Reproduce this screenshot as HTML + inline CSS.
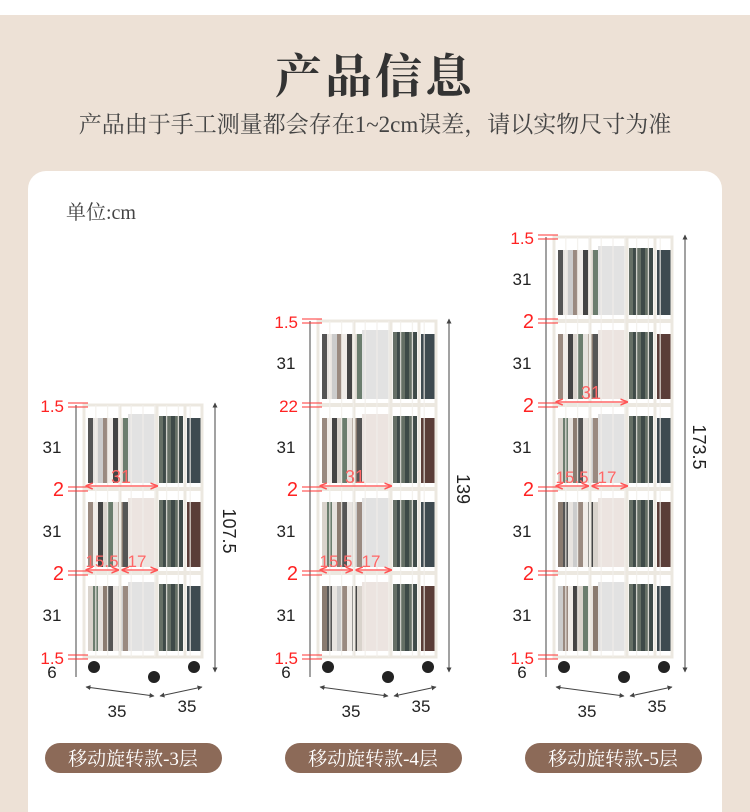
<!DOCTYPE html>
<html><head><meta charset="utf-8"><style>
html,body{margin:0;padding:0;width:750px;height:812px;overflow:hidden;background:#fff}
.bg{position:absolute;left:0;top:15px;width:750px;height:797px;background:#ede1d6}
.card{position:absolute;left:28px;top:171px;width:694px;height:641px;background:#fff;border-radius:18px 18px 0 0}
.t{position:absolute;left:0;width:750px;text-align:center;color:#333;font-family:"Liberation Serif","Noto Serif CJK SC",serif}
svg{position:absolute;left:0;top:0}
</style></head><body>
<div class="bg"></div><div class="card"></div>
<div class="t" style="top:40px;font-size:47px;font-weight:bold;letter-spacing:3px">产品信息</div>
<div class="t" style="top:106px;font-size:23px;color:#444">产品由于手工测量都会存在1~2cm误差，请以实物尺寸为准</div>
<div style="position:absolute;left:66px;top:196px;font-size:20px;color:#444;font-family:'Liberation Serif','Noto Serif CJK SC',serif">单位:cm</div>
<svg id="s" width="750" height="812" xmlns="http://www.w3.org/2000/svg"></svg>
<script>
var s=document.getElementById('s'),h='';
h+='<defs><marker id="a" viewBox="0 0 10 10" refX="9" refY="5" markerWidth="5" markerHeight="5" orient="auto-start-reverse"><path d="M0,0L10,5L0,10z" fill="#444"/></marker><marker id="r" viewBox="0 0 10 10" refX="9" refY="5" markerWidth="5" markerHeight="5" orient="auto-start-reverse"><path d="M0,1L10,5L0,9" fill="none" stroke="#f55" stroke-width="2"/></marker></defs>';
var cols=['#555','#e8e4e0','#ccc','#9a8a80','#f0ece8','#444','#d9d3cc','#6b7d6e','#e6e2de','#8a7b70'];
function shelf(x,tiers,tot,lbl,pill){
 var top=657-tiers*84, bot=657, fr=x+73, side=x+118;
 for(var t=0;t<tiers;t++){var y0=top+t*84+5,y1=y0+79-6;
  for(var i=0;i<8;i++){h+='<rect x="'+(x+4+i*5)+'" y="'+(y0+8)+'" width="5" height="'+(y1-y0-8)+'" fill="'+cols[(i+t*3)%10]+'"/>';}
  h+='<rect x="'+(x+44)+'" y="'+(y0+4)+'" width="28" height="'+(y1-y0-4)+'" fill="'+(t%2?'#ece4e0':'#e2e2e2')+'"/>';
  for(var i=0;i<6;i++){h+='<rect x="'+(fr+2+i*4)+'" y="'+(y0+6)+'" width="4" height="'+(y1-y0-6)+'" fill="'+(i%2?'#3e4a48':'#667066')+'"/>';}
  for(var i=0;i<4;i++){h+='<rect x="'+(fr+30+i*4)+'" y="'+(y0+8)+'" width="4" height="'+(y1-y0-8)+'" fill="'+(t%2?'#5a3d38':'#3e4a50')+'"/>';}
 }
 var st='stroke="#ece8e0" fill="none"';
 h+='<rect x="'+x+'" y="'+top+'" width="'+(side-x)+'" height="'+(bot-top)+'" '+st+' stroke-width="3"/>';
 for(var t=1;t<tiers;t++){var yy=top+t*84;h+='<line x1="'+x+'" y1="'+yy+'" x2="'+side+'" y2="'+yy+'" stroke="#ece8e0" stroke-width="4"/>';}
 [x+36,fr,fr+28].forEach(function(v){h+='<line x1="'+v+'" y1="'+top+'" x2="'+v+'" y2="'+bot+'" stroke="#ece8e0" stroke-width="3"/>';});
 for(var i=1;i<10;i++){var v=x+i*(side-x)/10;h+='<line x1="'+v+'" y1="'+top+'" x2="'+v+'" y2="'+bot+'" stroke="#f2efea" stroke-width="1.3" opacity=".8"/>';}
 [x+10,x+70,side-8].forEach(function(v,k){h+='<circle cx="'+v+'" cy="'+(bot+10+(k==1?10:0))+'" r="6" fill="#222"/>';});
 var lx=x-8;
 h+='<line x1="'+lx+'" y1="'+top+'" x2="'+lx+'" y2="'+(bot+20)+'" stroke="#444" stroke-width="1"/>';
 function red(y,txt){h+='<line x1="'+(x-16)+'" y1="'+(y-2)+'" x2="'+(x+4)+'" y2="'+(y-2)+'" stroke="#f33"/><line x1="'+(x-16)+'" y1="'+(y+2)+'" x2="'+(x+4)+'" y2="'+(y+2)+'" stroke="#f33"/><text x="'+(x-20)+'" y="'+(y+7)+'" text-anchor="end" font-size="'+(txt.length>1?17:20)+'" fill="#f22" font-family="Liberation Sans,sans-serif">'+txt+'</text>';}
 red(top,'1.5');
 for(var t=0;t<tiers;t++){h+='<text x="'+(x-32)+'" y="'+(top+t*84+48)+'" text-anchor="middle" font-size="17" fill="#222" font-family="Liberation Sans,sans-serif">31</text>';
  if(t>0)red(top+t*84,(tiers==4&&t==1)?'22':'2');}
 red(bot,'1.5');
 h+='<text x="'+(x-32)+'" y="'+(bot+21)+'" text-anchor="middle" font-size="17" fill="#222" font-family="Liberation Sans,sans-serif">6</text>';
 var yA=top+(tiers==3?84:168)-3, yB=yA+84;
 h+='<line x1="'+(x+2)+'" y1="'+yA+'" x2="'+(fr)+'" y2="'+yA+'" stroke="#f66" stroke-width="1.5" marker-start="url(#r)" marker-end="url(#r)"/><text x="'+(x+37)+'" y="'+(yA-3)+'" text-anchor="middle" font-size="18" fill="#f66" font-family="Liberation Sans,sans-serif">31</text>';
 h+='<line x1="'+(x+2)+'" y1="'+yB+'" x2="'+(x+34)+'" y2="'+yB+'" stroke="#f66" stroke-width="1.5" marker-start="url(#r)" marker-end="url(#r)"/><line x1="'+(x+38)+'" y1="'+yB+'" x2="'+(fr)+'" y2="'+yB+'" stroke="#f66" stroke-width="1.5" marker-start="url(#r)" marker-end="url(#r)"/><text x="'+(x+18)+'" y="'+(yB-3)+'" text-anchor="middle" font-size="17" fill="#f66" font-family="Liberation Sans,sans-serif">15.5</text><text x="'+(x+53)+'" y="'+(yB-3)+'" text-anchor="middle" font-size="17" fill="#f66" font-family="Liberation Sans,sans-serif">17</text>';
 var rx=side+13;
 h+='<line x1="'+rx+'" y1="'+(top-2)+'" x2="'+rx+'" y2="'+(bot+15)+'" stroke="#444" marker-start="url(#a)" marker-end="url(#a)"/>';
 var cy=(top+bot)/2;
 h+='<text transform="translate('+(rx+8)+','+cy+') rotate(90)" text-anchor="middle" font-size="18" fill="#222" font-family="Liberation Sans,sans-serif">'+tot+'</text>';
 h+='<line x1="'+(x+2)+'" y1="'+(bot+30)+'" x2="'+(x+70)+'" y2="'+(bot+39)+'" stroke="#444" marker-start="url(#a)" marker-end="url(#a)"/><line x1="'+(x+76)+'" y1="'+(bot+39)+'" x2="'+(side)+'" y2="'+(bot+30)+'" stroke="#444" marker-start="url(#a)" marker-end="url(#a)"/>';
 h+='<text x="'+(x+33)+'" y="'+(bot+60)+'" text-anchor="middle" font-size="17" fill="#222" font-family="Liberation Sans,sans-serif">35</text><text x="'+(side-15)+'" y="'+(bot+55)+'" text-anchor="middle" font-size="17" fill="#222" font-family="Liberation Sans,sans-serif">35</text>';
 h+='<rect x="'+pill+'" y="743" width="177" height="30" rx="15" fill="#8c6a58"/><text x="'+(pill+88)+'" y="765" text-anchor="middle" font-size="19" fill="#fff" font-family="Liberation Serif,Noto Serif CJK SC,serif">'+lbl+'</text>';
}
shelf(84,3,'107.5','移动旋转款-3层',45);
shelf(318,4,'139','移动旋转款-4层',285);
shelf(554,5,'173.5','移动旋转款-5层',525);
s.innerHTML=h;
</script>
</body></html>
